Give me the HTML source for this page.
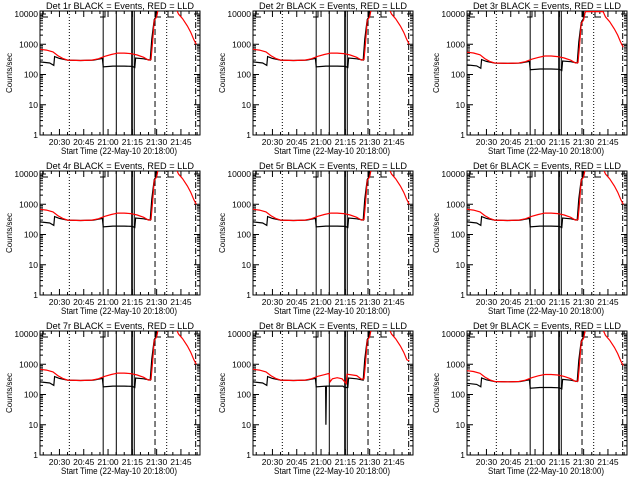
<!DOCTYPE html>
<html><head><meta charset="utf-8"><style>
html,body{margin:0;padding:0;background:#fff;}
svg{display:block;}
text{font-family:"Liberation Sans",sans-serif;fill:#000;}
</style></head><body>
<svg id="chart" width="640" height="480" viewBox="0 0 640 480" xmlns="http://www.w3.org/2000/svg"></svg>
<script>
const detNames = ["1r","2r","3r","4r","5r","6r","7r","8r","9r"];
const detScale = [1,1,0.8,1,1,1,1,1,0.9];
const xTickMins = [12,27,42,57,72,87];
const xTickLabels = ["20:30","20:45","21:00","21:15","21:30","21:45"];
const yTickVals = [1,10,100,1000,10000];
const yTickLabels = ["1","10","100","1000","10000"];
const redT = [0,4,8,11,14,17,25,32,36,40,44,48,52,56,60,64,67,68.5,69.5,70.5,72,73,84,85.5,88,91,93,95,96.5];
const redV = [680,640,560,420,340,300,290,300,330,400,460,510,510,490,440,370,300,310,1200,6000,8000,15000,15000,10000,7000,4000,2500,1400,1000];
const blackT = [0,6,8.5,9,12,17,25,33,38.5,39,45,52,57,58.5,59,64,68,69,70.5,72,73];
const blackV = [260,240,200,390,340,300,290,300,340,180,190,190,185,170,350,330,300,1500,6500,9000,15000];
const red8T = [0,4,8,11,14,17,25,32,36,40,44,47,47.5,49,52,55,57.5,58,64,67,68.5,69.5,70.5,72,73,84,85.5,88,91,93,95,96.5];
const red8V = [680,640,560,420,340,300,290,300,330,400,450,500,260,330,360,330,230,470,420,320,330,1200,6000,8000,15000,15000,10000,7000,4000,2500,1400,1300];
const black8T = [0,6,8.5,9,12,17,25,33,38.5,39,44.8,45,45.3,46,55.5,56,57.5,58.5,59,64,68,69,70.5,72,73];
const black8V = [260,240,200,390,340,300,290,300,340,180,190,10,190,190,190,180,170,170,350,330,300,1500,6500,9000,15000];
const solidLineT = [39,47.1,56.6,57,58.2];
const dottedLineT = [18.1,78.2];
const dashedLineT = [71];
const dashDotLineT = [96.1];

const NS="http://www.w3.org/2000/svg";
const svg=document.getElementById('chart');
function mk(tag,attrs,parent){const e=document.createElementNS(NS,tag);for(const k in attrs)e.setAttribute(k,attrs[k]);parent.appendChild(e);return e;}
const L=40,R=200,T=11,B=135;
function xs(t){return L+t*1.62;}
function ys(v){return 135-30.25*Math.log10(v);}

detNames.forEach((d,i)=>{
  const col=i%3,row=Math.floor(i/3);
  const ox=Math.round(col*213.33),oy=row*160;
  const g=mk('g',{transform:`translate(${ox},${oy})`},svg);
  
  
  const cp=mk('clipPath',{id:'clip'+i},g);
  mk('rect',{x:L,y:T,width:R-L,height:B-T},cp);
  const title=mk('text',{x:120,y:9,'font-size':'9','text-anchor':'middle',textLength:'148',lengthAdjust:'spacingAndGlyphs'},g);
  title.textContent='Det '+d+' BLACK = Events, RED = LLD';
  
  
  const yt=mk('text',{x:0,y:0,'font-size':'8','text-anchor':'middle',transform:'translate(12,73) rotate(-90)'},g);
  yt.textContent='Counts/sec';
  
  
  const xt=mk('text',{x:119,y:154,'font-size':'9','text-anchor':'middle',textLength:'116',lengthAdjust:'spacingAndGlyphs'},g);
  xt.textContent='Start Time (22-May-10 20:18:00)';
  
  
  const box=mk('rect',{x:L,y:T,width:R-L,height:B-T,fill:'none',stroke:'#000','stroke-width':1},g);
  
  
  yTickVals.forEach((v,k)=>{
    const y=ys(v);
    mk('line',{x1:L,x2:L+6,y1:y,y2:y,stroke:'#000'},g);
    mk('line',{x1:R-6,x2:R,y1:y,y2:y,stroke:'#000'},g);
    const tl=mk('text',{x:L-2,y:y+3,'font-size':'8.5','text-anchor':'end'},g);
    tl.textContent=yTickLabels[k];
    
    
    if(v<10000){for(let m=2;m<10;m++){const yy=ys(v*m);mk('line',{x1:L,x2:L+3,y1:yy,y2:yy,stroke:'#000'},g);mk('line',{x1:R-3,x2:R,y1:yy,y2:yy,stroke:'#000'},g);}}
  });
  for(let t=2;t<99;t+=5){const x=xs(t);const maj=xTickMins.includes(t);const len=maj?6:3;
    mk('line',{x1:x,x2:x,y1:B,y2:B-len,stroke:'#000'},g);mk('line',{x1:x,x2:x,y1:T,y2:T+len,stroke:'#000'},g);}
  xTickMins.forEach((t,k)=>{
    const tl=mk('text',{x:xs(t),y:145,'font-size':'8.5','text-anchor':'middle'},g);
    tl.textContent=xTickLabels[k];
    
    
  });
  const cg=mk('g',{'clip-path':`url(#clip${i})`},g);
  const vl=(arr,dash,name)=>arr.forEach(t=>{const l=mk('line',{x1:xs(t),x2:xs(t),y1:T,y2:B,stroke:'#000','stroke-width':1,'stroke-dasharray':dash},cg);});
  vl(solidLineT,'none','solid-marker-line');
  vl(dottedLineT,'1,2','dotted-marker-line');
  vl(dashedLineT,'6,3','dashed-marker-line');
  vl(dashDotLineT,'6,2,1,2','dashdot-marker-line');
  [[42.7,48],[105,100],[156,161],[168,174]].forEach(b=>{mk('polyline',{points:`${b[0]},${T} ${b[0]},${T+6} ${b[1]},${T+6}`,fill:'none',stroke:'#000'},cg);});
  const line=(T2,V2,color,name)=>{const pts=[];for(let k=0;k<T2.length;k++){pts.push(xs(T2[k]).toFixed(1)+','+ys(V2[k]*detScale[i]).toFixed(1));}
    const pl=mk('polyline',{points:pts.join(' '),fill:'none',stroke:color,'stroke-width':1.2},cg);};
  if(i===7){line(black8T,black8V,'#000','events-line');line(red8T,red8V,'#f00','lld-line');}
  else{line(blackT,blackV,'#000','events-line');line(redT,redV,'#f00','lld-line');}
});
</script>
</body></html>
